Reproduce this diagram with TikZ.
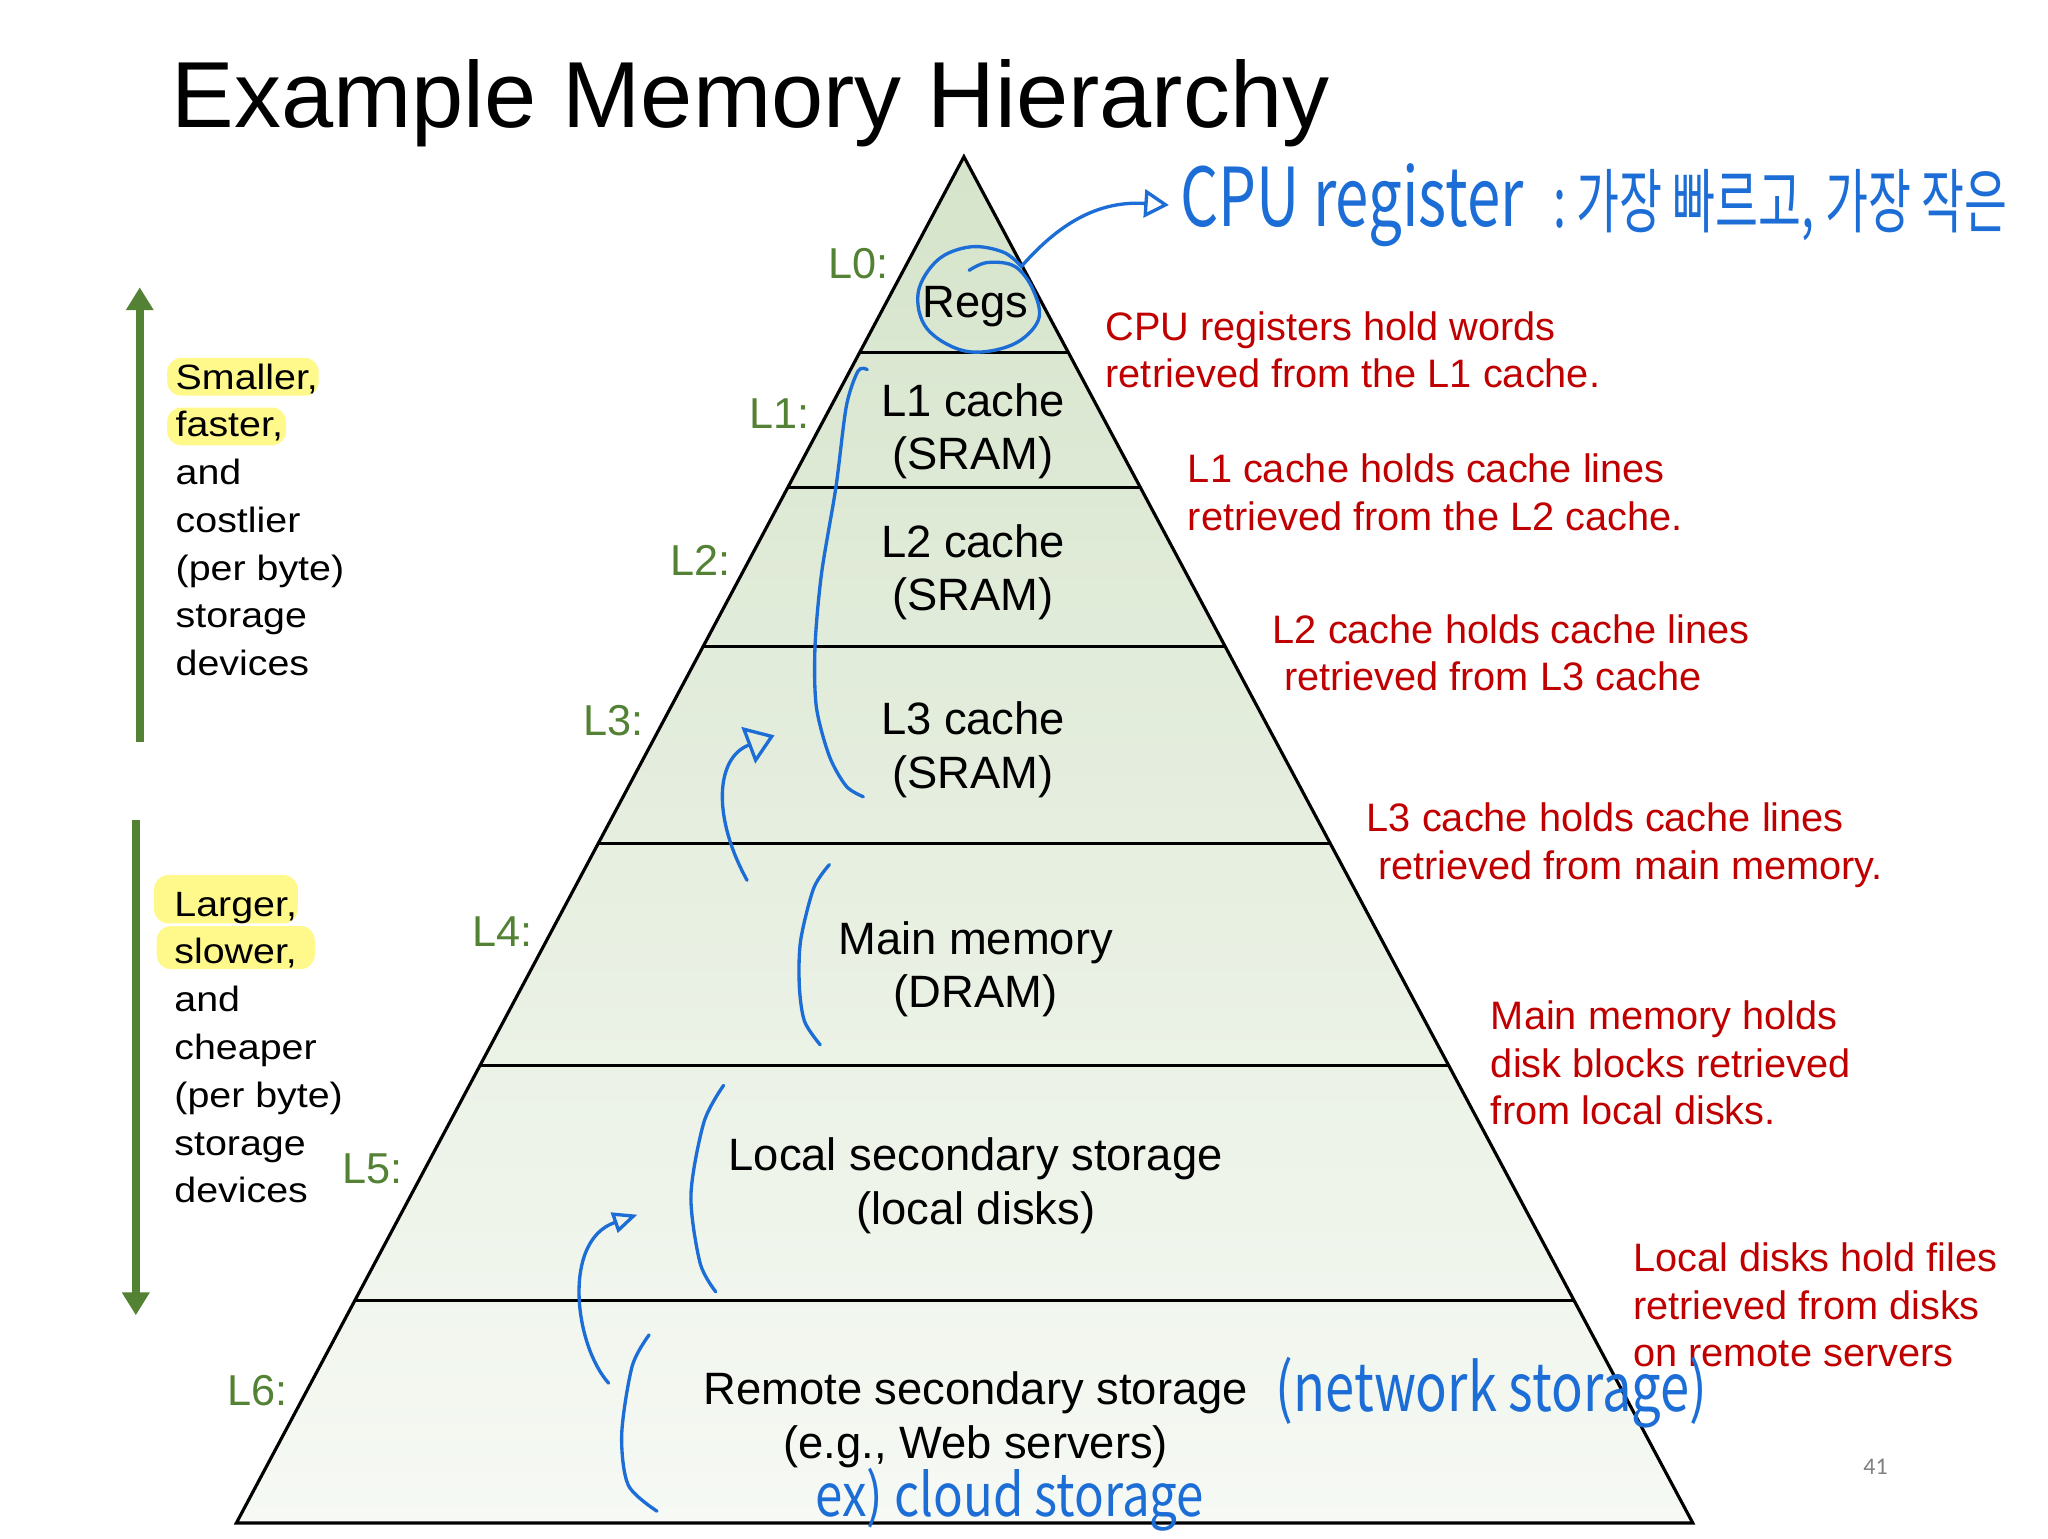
\documentclass[tikz,border=0pt]{standalone}
\usepackage{fontspec}
\setmainfont{Liberation Sans}
\newfontfamily\widefont[FakeStretch=1.12]{Liberation Sans}
\newfontfamily\handfont{Noto Sans CJK KR}
\newfontfamily\pagefont{Carlito}
\usetikzlibrary{positioning, arrows.meta, calc}
\definecolor{lvgreen}{RGB}{84,130,53}
\definecolor{notered}{RGB}{192,0,0}
\definecolor{penblue}{RGB}{28,110,214}
\definecolor{hilite}{RGB}{255,249,140}
\definecolor{pyrtop}{RGB}{214,228,203}
\definecolor{pyrbot}{RGB}{246,249,244}
\tikzset{
  tier/.style={draw=black, line width=0.8pt},
  level/.style={align=center, inner sep=0pt, font=\fontsize{12.9}{15.2}\selectfont},
  lvlabel/.style={inner sep=0pt, text=lvgreen, font=\fontsize{12.3}{14}\selectfont},
  note/.style={anchor=west, align=left, inner sep=0pt, text=notered, font=\fontsize{11.3}{13.5}\selectfont},
  side/.style={anchor=west, align=left, inner sep=0pt, font=\widefont\fontsize{10}{13.6}\selectfont},
  marker/.style={fill=hilite, rounded corners=4pt},
  bigarrow/.style={draw=lvgreen, line width=2.3pt, -{Triangle[length=6.5pt, width=7.5pt]}},
  pen/.style={draw=penblue, line width=0.95pt, line cap=round, line join=round},
  hand/.style={inner sep=0pt, text=penblue},
  cputip/.style={-{Triangle[open, length=7pt, width=8pt]}},
  bighead/.style={-{Triangle[open, length=8pt, width=11pt]}},
  smallhead/.style={-{Triangle[open, length=7pt, width=6pt]}}
}
\begin{document}
\begin{tikzpicture}[x=0.013061cm, y=-0.013061cm]
\fill[white] (0,0) rectangle (1568,1178);
\useasboundingbox (0,0) rectangle (1568,1178);

% --- Title ---
\node (title) [anchor=west, inner sep=0pt, font=\fontsize{26.7}{30}\selectfont] at (131,79) {Example Memory Hierarchy};

% --- Pyramid ---
\coordinate (apex) at (738,120);
\coordinate (bl) at (181,1166);
\coordinate (br) at (1296,1166);
\shade[top color=pyrtop, bottom color=pyrbot] (apex) -- (bl) -- (br) -- cycle;
\foreach \y in {270,373,495,646,816,996}
  \draw[tier] ($(apex)!{(\y-120)/1046}!(bl)$) -- ($(apex)!{(\y-120)/1046}!(br)$);
\draw[line width=0.9pt] (apex) -- (bl) -- (br) -- cycle;

\node (regs) [level] at (747,235) {Regs};
\node (lone) [level] at (745,330) {L1 cache\\(SRAM)};
\node (ltwo) [level] at (745,438) {L2 cache\\(SRAM)};
\node (lthree) [level] at (745,574) {L3 cache\\(SRAM)};
\node (mainmem) [level] at (747,742) {Main memory\\(DRAM)};
\node (localsec) [level] at (747,908) {Local secondary storage\\(local disks)};
\node (remotesec) [level] at (747,1087) {Remote secondary storage\\(e.g., Web servers)};

% --- Level labels ---
\node (lzero) [lvlabel] at (657,202) {L0:};
\node (lonelab) [lvlabel] at (597,317) {L1:};
\node (ltwolab) [lvlabel] at (536,429) {L2:};
\node (lthreelab) [lvlabel] at (470,552) {L3:};
\node (lfourlab) [lvlabel] at (385,713) {L4:};
\node (lfivelab) [lvlabel] at (285,895) {L5:};
\node (lsixlab) [lvlabel] at (197,1065) {L6:};

% --- Notes on the right ---
\node (noteregs) [note] at (846,268) {CPU registers hold words\\retrieved from the L1 cache.};
\node (notelone) [note] at (909,377) {L1 cache holds cache lines\\retrieved from the L2 cache.};
\node (noteltwo) [note] at (974,500) {L2 cache holds cache lines\\\hspace*{3.2pt}retrieved from L3 cache};
\node (notelthree) [note] at (1046,647) {L3 cache holds cache lines\\\hspace*{3.2pt}retrieved from main memory.};
\node (notemain) [note] at (1141,814) {Main memory holds\\disk blocks retrieved\\from local disks.};
\node (notelocal) [note] at (1250,999) {Local disks hold files\\retrieved from disks\\on remote servers};

% --- Left side ---
\fill[marker] (128,274) rectangle (244,303);
\fill[marker] (128,312) rectangle (219,341);
\fill[marker] (118,670) rectangle (228,707);
\fill[marker] (120,709) rectangle (241,742);
\node (fastside) [side] at (134,398) {Smaller,\\faster,\\and\\costlier\\(per byte)\\storage\\devices};
\node (slowside) [side] at (133,802) {Larger,\\slower,\\and\\cheaper\\(per byte)\\storage\\devices};

\coordinate (uptail) at (107,568);
\coordinate (uphead) at (107,220);
\draw[bigarrow] (uptail) -- (uphead);
\coordinate (downtail) at (104,628);
\coordinate (downhead) at (104,1007);
\draw[bigarrow] (downtail) -- (downhead);

\node (pagenum) [text=gray, font=\pagefont\fontsize{6.8}{8}\selectfont] at (1436,1123) {41};

% --- Pen notes ---
\node (cpureg) [hand, anchor=west] at (903,157) {\scalebox{0.776}[1.05]{\handfont\fontsize{22}{24}\selectfont CPU register}};
\node (cpunote) [hand, right=0.28cm of cpureg] {\scalebox{0.664}[1]{\handfont\fontsize{20}{22}\selectfont :\ 가장 빠르고, 가장 작은}};
\node (netstore) [hand] at (1142,1066) {\scalebox{0.83}[1.05]{\handfont\fontsize{18}{20}\selectfont (network storage)}};
\node (cloud) [hand] at (773,1148) {\scalebox{0.876}[1.05]{\handfont\fontsize{16}{18}\selectfont ex) cloud storage}};

\draw[pen] plot[smooth, tension=0.6] coordinates {(742,207) (756,201) (777,204) (791,222) (795,245) (775,264) (740,269) (710,252) (703,224) (718,199) (743,189) (768,193) (782,204)};
\coordinate (regsmark) at (782,204);
\draw[pen, cputip] (regsmark) .. controls (805,178) and (835,153) .. ([xshift=-3pt]cpureg.west);

\draw[pen] plot[smooth] coordinates {(664,283) (657,284) (648,311) (640,373) (629,439) (624,495) (625,541) (635,579) (648,602) (661,610)};
\draw[pen] plot[smooth] coordinates {(635,662) (623,680) (613,720) (612,755) (616,782) (628,800)};
\draw[pen] plot[smooth] coordinates {(554,831) (539,859) (529,915) (536,967) (548,989)};
\draw[pen] plot[smooth] coordinates {(497,1022) (484,1046) (476,1098) (481,1137) (503,1157)};

\coordinate (memfoot) at (572,674);
\coordinate (lthreetip) at (593,563);
\draw[pen, bighead] (memfoot) .. controls (545,625) and (548,580) .. (lthreetip);
\coordinate (remfoot) at (466,1059);
\coordinate (localtip) at (488,930);
\draw[pen, smallhead] (remfoot) .. controls (440,1030) and (430,950) .. (localtip);

\end{tikzpicture}
\end{document}
